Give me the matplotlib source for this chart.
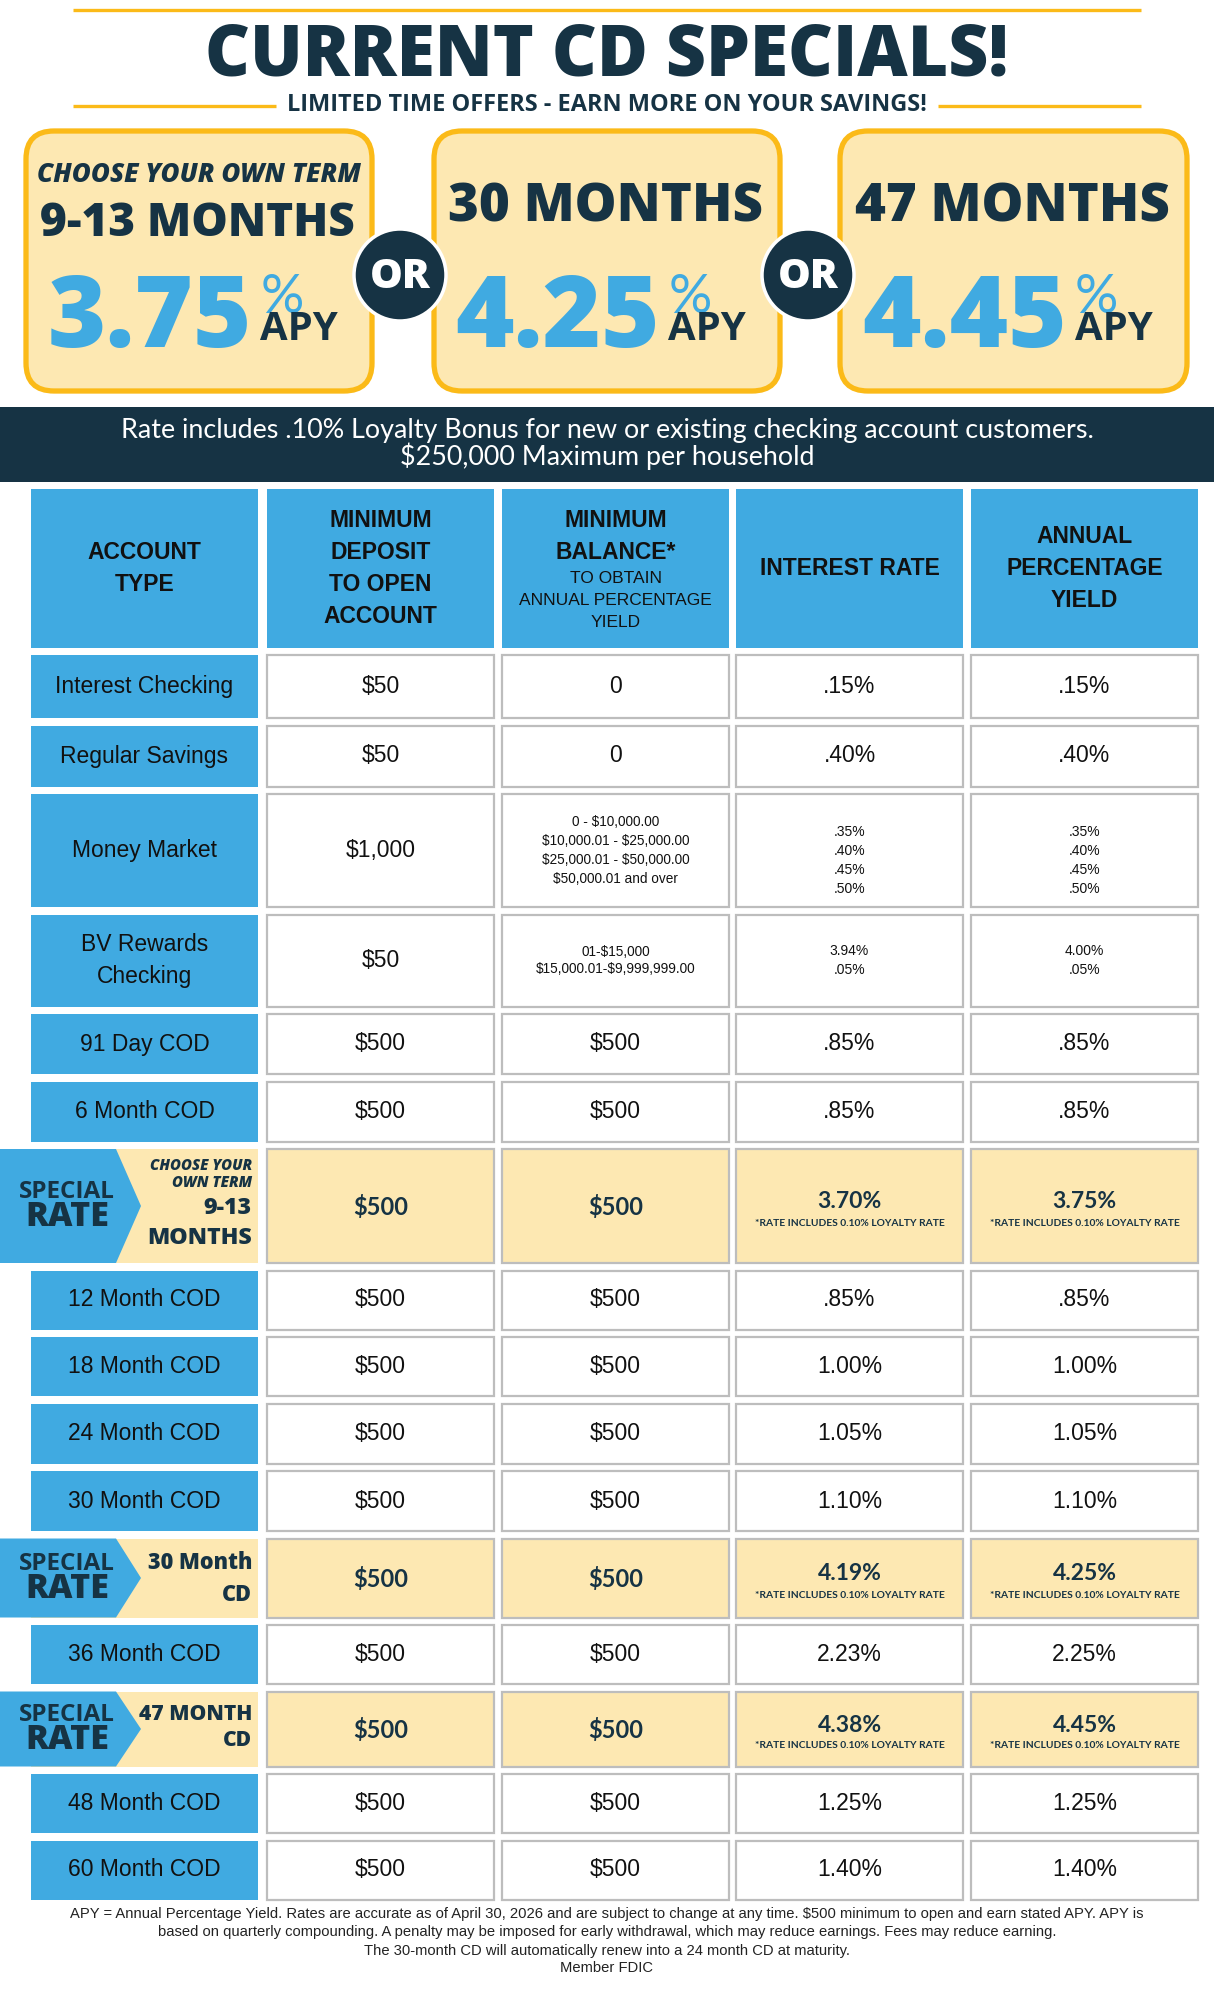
import matplotlib
matplotlib.use("Agg")
import matplotlib.pyplot as plt
from matplotlib.patches import Rectangle, FancyBboxPatch, Circle, Polygon

plt.rcParams["text.parse_math"] = False

NAVY = "#163344"
BLUE = "#40AAE1"
GOLD = "#FBBA18"
CREAM = "#FDE8B2"
INK = "#111111"
EDGE = "#BDBDBD"

HEAD = "Lato"
HEAVY = ["Open Sans", "Lato"]
XB = 800
BODY = "Liberation Sans"

# ---- content ----
title = "CURRENT CD SPECIALS!"
subtitle = "LIMITED TIME OFFERS - EARN MORE ON YOUR SAVINGS!"
offer_note = "CHOOSE YOUR OWN TERM"
offer_terms = ["9-13 MONTHS", "30 MONTHS", "47 MONTHS"]
offer_apy = ["3.75", "4.25", "4.45"]
band_lines = ["Rate includes .10% Loyalty Bonus for new or existing checking account customers.",
              "$250,000 Maximum per household"]

header_lines = [
    [("ACCOUNT", True), ("TYPE", True)],
    [("MINIMUM", True), ("DEPOSIT", True), ("TO OPEN", True), ("ACCOUNT", True)],
    [("MINIMUM", True), ("BALANCE*", True), ("TO OBTAIN", False),
     ("ANNUAL PERCENTAGE", False), ("YIELD", False)],
    [("INTEREST RATE", True)],
    [("ANNUAL", True), ("PERCENTAGE", True), ("YIELD", True)],
]

row_labels = ["Interest Checking", "Regular Savings", "Money Market", "BV Rewards\nChecking",
              "91 Day COD", "6 Month COD", "SPECIAL\nRATE", "12 Month COD", "18 Month COD",
              "24 Month COD", "30 Month COD", "SPECIAL\nRATE", "36 Month COD", "SPECIAL\nRATE",
              "48 Month COD", "60 Month COD"]
special_terms = [None, None, None, None, None, None,
                 ["CHOOSE YOUR", "OWN TERM", "9-13", "MONTHS"],
                 None, None, None, None, ["30 Month", "CD"], None, ["47 MONTH", "CD"], None, None]
min_deposit = ["$50", "$50", "$1,000", "$50", "$500", "$500", "$500", "$500", "$500",
               "$500", "$500", "$500", "$500", "$500", "$500", "$500"]
min_balance = ["0", "0",
               "0 - $10,000.00\n$10,000.01 - $25,000.00\n$25,000.01 - $50,000.00\n$50,000.01 and over",
               "01-$15,000\n$15,000.01-$9,999,999.00",
               "$500", "$500", "$500", "$500", "$500", "$500", "$500", "$500", "$500", "$500",
               "$500", "$500"]
interest_rate = [".15%", ".40%", ".35%\n.40%\n.45%\n.50%", "3.94%\n.05%", ".85%", ".85%",
                 "3.70%", ".85%", "1.00%", "1.05%", "1.10%", "4.19%", "2.23%", "4.38%",
                 "1.25%", "1.40%"]
apy = [".15%", ".40%", ".35%\n.40%\n.45%\n.50%", "4.00%\n.05%", ".85%", ".85%",
       "3.75%", ".85%", "1.00%", "1.05%", "1.10%", "4.25%", "2.25%", "4.45%",
       "1.25%", "1.40%"]
rate_note = "*RATE INCLUDES 0.10% LOYALTY RATE"

footer_lines = [
    "APY = Annual Percentage Yield. Rates are accurate as of April 30, 2026 and are subject to change at any time. $500 minimum to open and earn stated APY. APY is",
    "based on quarterly compounding. A penalty may be imposed for early withdrawal, which may reduce earnings. Fees may reduce earning.",
    "The 30-month CD will automatically renew into a 24 month CD at maturity.",
    "Member FDIC",
]

# ---- layout (pixels) ----
W, H = 1214, 2000
col_x = [31, 267, 502, 736, 971]
col_w = 227
head_top, head_bot = 489, 648
row_h = [63, 61, 113, 92, 60, 60, 114, 59, 59, 60, 60, 79, 59, 75, 59, 59]
gap = 7.5
term_dy = {6: [-40, -23, 2, 32], 11: [-15, 17], 13: [-14, 12]}
num_w = [210, 218, 229]

fig = plt.figure(figsize=(W / 100, H / 100), dpi=100)
ax = fig.add_axes([0, 0, 1, 1])
ax.set_xlim(0, W)
ax.set_ylim(H, 0)
ax.axis("off")
renderer = fig.canvas.get_renderer()


def fit(t, width, cap=None):
    bb = t.get_window_extent(renderer=renderer)
    size = t.get_fontsize() * width / bb.width
    if cap is not None:
        size = min(size, cap)
    t.set_fontsize(size)
    return size


def width_of(t):
    return t.get_window_extent(renderer=renderer).width


# header
ax.plot([73, 1141], [10, 10], color=GOLD, lw=2.4, solid_capstyle="butt")
t = ax.text(607, 76, title, ha="center", va="baseline", color=NAVY,
            family=HEAVY, weight=XB, fontsize=44)
fit(t, 805)
ax.plot([73, 276], [106, 106], color=GOLD, lw=2.4, solid_capstyle="butt")
ax.plot([938, 1141], [106, 106], color=GOLD, lw=2.4, solid_capstyle="butt")
t = ax.text(607, 111, subtitle, ha="center", va="baseline", color=NAVY,
            family=HEAVY, weight="bold", fontsize=14)
fit(t, 643)

# offer boxes
box_x = [(26, 372), (434, 780), (840, 1187)]
for k, (x0, x1) in enumerate(box_x):
    ax.add_patch(FancyBboxPatch((x0, 131), x1 - x0, 260,
                                boxstyle="round,pad=0,rounding_size=28",
                                fc=CREAM, ec=GOLD, lw=3.8))
    cx = (x0 + x1) / 2
    if k == 0:
        t = ax.text(cx, 182, offer_note, ha="center", va="baseline", color=NAVY,
                    family=HEAVY, weight=XB, style="italic", fontsize=16)
        fit(t, 324)
        t = ax.text(cx - 2, 236, offer_terms[k], ha="center", va="baseline", color=NAVY,
                    family=HEAVY, weight=XB, fontsize=32)
        fit(t, 320, cap=33)
    else:
        t = ax.text(cx - 1, 221, offer_terms[k], ha="center", va="baseline", color=NAVY,
                    family=HEAVY, weight=XB, fontsize=34)
        fit(t, 322, cap=38)
    num = ax.text(0, 347, offer_apy[k], ha="left", va="baseline", color=BLUE,
                  family=HEAVY, weight=XB, fontsize=70)
    fit(num, num_w[k], cap=72)
    nw = width_of(num)
    left = cx - 6 - (nw + 86) / 2
    num.set_x(left)
    ax.text(left + nw + 8, 313, "%", ha="left", va="baseline", color=BLUE,
            family=HEAD, fontsize=39)
    t = ax.text(left + nw + 8, 340, "APY", ha="left", va="baseline", color=NAVY,
                family=HEAVY, weight="bold", fontsize=24)
    fit(t, 78)

for cx in [400, 808]:
    ax.add_patch(Circle((cx, 275), 46, fc=NAVY, ec="white", lw=2.5))
    t = ax.text(cx, 288, "OR", ha="center", va="baseline", color="white",
                family=HEAVY, weight=XB, fontsize=26)
    fit(t, 61)

# navy band
ax.add_patch(Rectangle((0, 407), W, 75, fc=NAVY, ec="none"))
t = ax.text(607, 438, band_lines[0], ha="center", va="baseline", color="white",
            family=HEAD, fontsize=17)
bs = fit(t, 970)
ax.text(607, 465, band_lines[1], ha="center", va="baseline", color="white",
        family=HEAD, fontsize=bs)

# table header
head_mid = (head_top + head_bot) / 2
for c in range(5):
    ax.add_patch(Rectangle((col_x[c], head_top), col_w, head_bot - head_top, fc=BLUE, ec="none"))
    lines = header_lines[c]
    ys = [0.0]
    for j in range(1, len(lines)):
        step = 32 if lines[j][1] else (26 if lines[j - 1][1] else 22)
        ys.append(ys[-1] + step)
    off = head_mid - ys[-1] / 2 + (3 if not all(b for _, b in lines) else 0)
    for (txt, bold), y in zip(lines, ys):
        ax.text(col_x[c] + col_w / 2, y + off, txt, ha="center", va="center", color=INK,
                family=BODY, weight="bold" if bold else "normal",
                fontsize=16.5 if bold else 12.5)

# table rows
top = head_bot + 7
for i in range(len(row_labels)):
    h = row_h[i]
    mid = top + h / 2
    terms = special_terms[i]
    vals = [min_deposit[i], min_balance[i], interest_rate[i], apy[i]]
    if terms:
        ax.add_patch(Rectangle((col_x[0], top), col_w, h, fc=CREAM, ec="none"))
        ax.add_patch(Polygon([(0, top), (116, top), (141, mid), (116, top + h), (0, top + h)],
                             closed=True, fc=BLUE, ec="none"))
        sp, rt = row_labels[i].split("\n")
        t = ax.text(67, mid - 14, sp, ha="center", va="center", color=NAVY,
                    family=HEAVY, weight="bold", fontsize=15)
        fit(t, 96)
        t = ax.text(67, mid + 11, rt, ha="center", va="center", color=NAVY,
                    family=HEAVY, weight=XB, fontsize=20)
        fit(t, 84)
        dys = term_dy[i]
        if len(terms) == 4:
            t = ax.text(252, mid + dys[0], terms[0], ha="right", va="center", color=NAVY,
                        family=HEAVY, weight=XB, style="italic", fontsize=9)
            s1 = fit(t, 102)
            ax.text(252, mid + dys[1], terms[1], ha="right", va="center", color=NAVY,
                    family=HEAVY, weight=XB, style="italic", fontsize=s1)
            t = ax.text(252, mid + dys[3], terms[3], ha="right", va="center", color=NAVY,
                        family=HEAVY, weight=XB, fontsize=14)
            s2 = fit(t, 105)
            ax.text(252, mid + dys[2], terms[2], ha="right", va="center", color=NAVY,
                    family=HEAVY, weight=XB, fontsize=s2)
        else:
            t = ax.text(252, mid + dys[0], terms[0], ha="right", va="center", color=NAVY,
                        family=HEAVY, weight=XB, fontsize=14)
            s2 = fit(t, 105 if i == 11 else 113)
            ax.text(252, mid + dys[1], terms[1], ha="right", va="center", color=NAVY,
                    family=HEAVY, weight=XB, fontsize=s2)
    else:
        ax.add_patch(Rectangle((col_x[0], top), col_w, h, fc=BLUE, ec="none"))
        lab = row_labels[i].split("\n")
        for j, s in enumerate(lab):
            y = mid + (j - (len(lab) - 1) / 2) * 32
            ax.text(col_x[0] + col_w / 2, y, s, ha="center", va="center", color=INK,
                    family=BODY, fontsize=16.5)

    for c in range(1, 5):
        x0 = col_x[c]
        ax.add_patch(Rectangle((x0, top), col_w, h, fc=CREAM if terms else "white",
                               ec=EDGE, lw=1.6))
        cx = x0 + col_w / 2
        v = vals[c - 1]
        if terms:
            if c <= 2:
                ax.text(cx, mid + 1, v, ha="center", va="center", color=NAVY,
                        family=HEAD, weight="bold", fontsize=17)
            else:
                ax.text(cx, mid - 4, v, ha="center", va="center", color=NAVY,
                        family=HEAD, weight="bold", fontsize=16.5)
                t = ax.text(cx, mid + 17, rate_note, ha="center", va="center", color=NAVY,
                            family=HEAD, weight="bold", fontsize=6)
                fit(t, 190)
        else:
            lines = v.split("\n")
            if len(lines) == 1:
                ax.text(cx, mid, v, ha="center", va="center", color=INK,
                        family=BODY, fontsize=16.5)
            else:
                step = 17 if (len(lines) == 2 and c == 2) else 19
                dy = 10 if (len(lines) == 4 and c >= 3) else 0
                for j, s in enumerate(lines):
                    y = mid + dy + (j - (len(lines) - 1) / 2) * step
                    ax.text(cx, y, s, ha="center", va="center", color=INK,
                            family=BODY, fontsize=9.8 if c == 2 else 10)
    top += h + gap

# footer
t = ax.text(607, 1914, footer_lines[0], ha="center", va="center", color="#222222",
            family=["Liberation Sans Narrow", BODY], fontsize=10)
fs = fit(t, 1074)
for j, y in enumerate([1932, 1951, 1968]):
    ax.text(607, y, footer_lines[j + 1], ha="center", va="center", color="#222222",
            family=["Liberation Sans Narrow", BODY], fontsize=fs)

fig.savefig("out.png", dpi=100)
